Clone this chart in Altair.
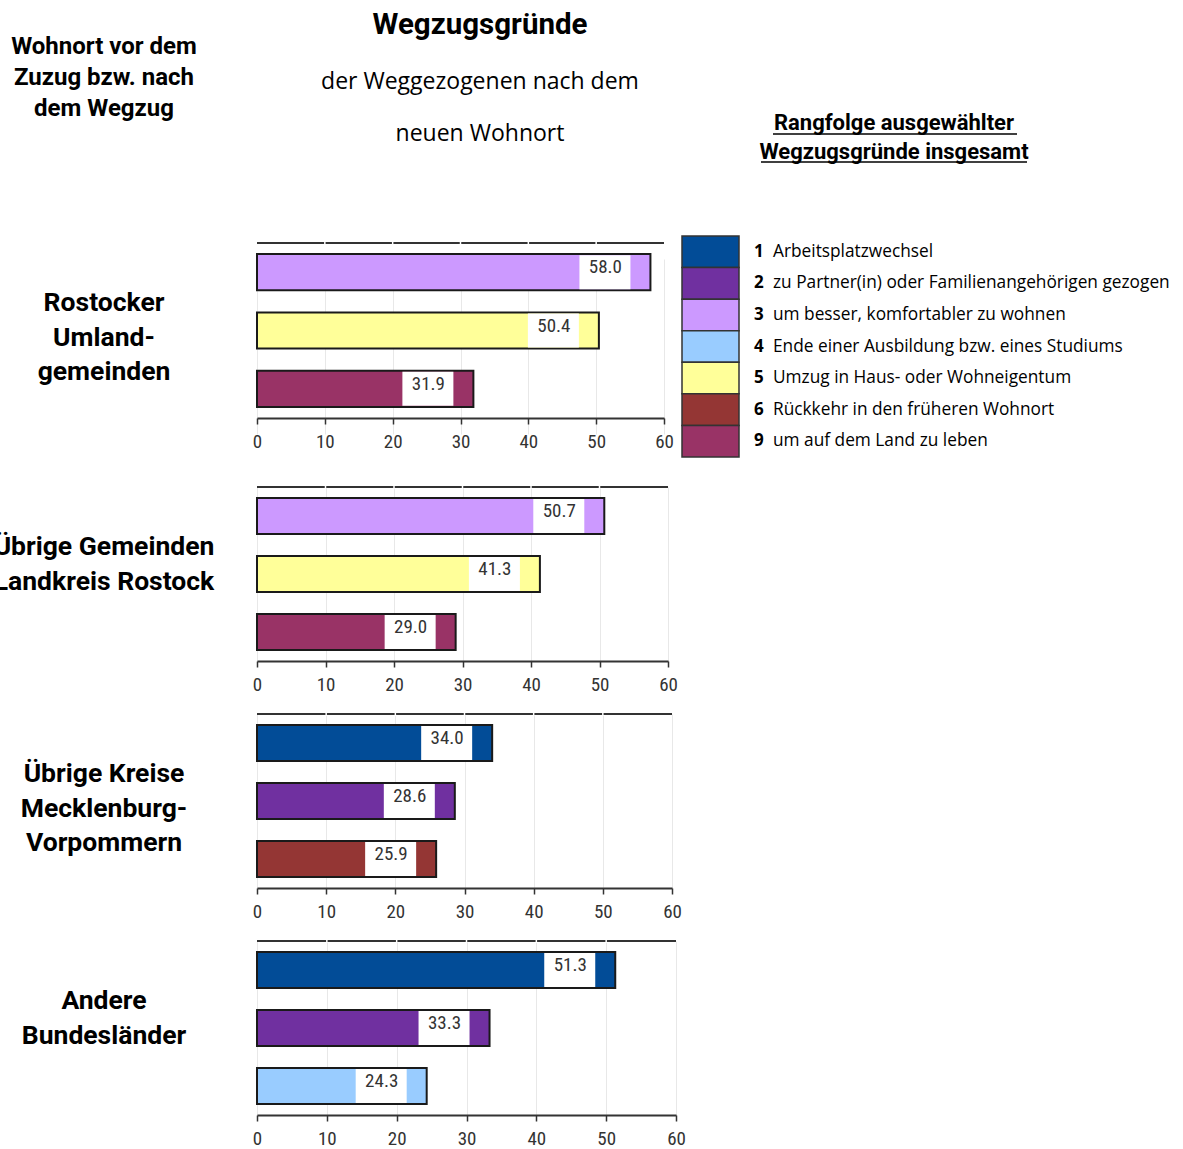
import altair as alt
import pandas as pd

# Fonts
SANS = "Open Sans"
HEAD = "Roboto"
COND = "Roboto Condensed, Liberation Sans Narrow, DejaVu Sans Condensed, Open Sans"
DARK = "#333333"

# Reasons for moving away (rank number, label, colour)
reason_ids = ["1", "2", "3", "4", "5", "6", "9"]
reason_names = [
    "Arbeitsplatzwechsel",
    "zu Partner(in) oder Familienangehörigen gezogen",
    "um besser, komfortabler zu wohnen",
    "Ende einer Ausbildung bzw. eines Studiums",
    "Umzug in Haus- oder Wohneigentum",
    "Rückkehr in den früheren Wohnort",
    "um auf dem Land zu leben",
]
reason_colors = ["#024c97", "#7030a0", "#cc99ff", "#99ccff", "#ffff99", "#943634", "#993366"]

# Regions and their top three reasons (percent)
regions = [
    "Rostocker\nUmland-\ngemeinden",
    "Übrige Gemeinden\nLandkreis Rostock",
    "Übrige Kreise\nMecklenburg-\nVorpommern",
    "Andere\nBundesländer",
]
region_reasons = [["3", "5", "9"], ["3", "5", "9"], ["1", "2", "6"], ["1", "2", "4"]]
region_values = [
    [58.0, 50.4, 31.9],
    [50.7, 41.3, 29.0],
    [34.0, 28.6, 25.9],
    [51.3, 33.3, 24.3],
]

ticks = [0, 10, 20, 30, 40, 50, 60]
inner_ticks = [10, 20, 30, 40, 50]

color_scale = alt.Scale(domain=reason_ids, range=reason_colors)
TOTAL_W = 1183


def panel(idx, x_end, plot_h, axis_offset=0):
    name_of = dict(zip(reason_ids, reason_names))
    df = pd.DataFrame({
        "rang": [1, 2, 3],
        "nr": region_reasons[idx],
        "wert": region_values[idx],
    })
    df["grund"] = df["nr"].map(name_of)

    xs = alt.Scale(domain=[0, 60], range=[257, x_end], nice=False, zero=True)
    ys = alt.Scale(range=[0, plot_h], paddingInner=0.38, paddingOuter=0.19)
    y = alt.Y("rang:O", axis=None, scale=ys)
    x_axis = alt.Axis(
        values=ticks, grid=True, gridColor="#e8e8e8", gridWidth=1,
        domainColor=DARK, domainWidth=2, tickColor=DARK, tickWidth=1.5,
        tickSize=6, labelFontSize=19, labelColor=DARK, labelFont=COND,
        labelPadding=8, labelFlush=False, offset=axis_offset,
    )
    base = alt.Chart(df)
    bars = base.mark_bar(stroke="#1a1a1a", strokeWidth=2).encode(
        x=alt.X("wert:Q", scale=xs, axis=x_axis, title=None),
        y=y,
        color=alt.Color("nr:N", scale=color_scale, legend=None),
    )
    boxes = base.mark_bar(color="white", size=34, xOffset=-71, x2Offset=-20).encode(
        x=alt.X("wert:Q", title=None),
        x2="wert:Q",
        y=y,
    )
    values = base.mark_text(
        font=COND, fontSize=19, color=DARK, xOffset=-45, yOffset=-5
    ).encode(
        x=alt.X("wert:Q", title=None),
        y=y,
        text=alt.Text("wert:Q", format=".1f"),
    )
    # dark frame line along the top of the plot, broken at the grid lines
    top_line = alt.Chart(pd.DataFrame({"wert": [0], "ende": [60]})).mark_rule(
        color=DARK, strokeWidth=2
    ).encode(
        x=alt.X("wert:Q", title=None),
        x2="ende:Q",
        y=alt.value(0),
    )
    gaps = alt.Chart(pd.DataFrame({"wert": inner_ticks})).mark_rule(
        color="white", strokeWidth=1.5
    ).encode(
        x=alt.X("wert:Q", title=None),
        y=alt.value(-2),
        y2=alt.value(2),
    )
    plot = alt.layer(bars, boxes, values, top_line, gaps)

    label = alt.Chart(pd.DataFrame({"t": [regions[idx]]})).mark_text(
        align="center", baseline="top", font=HEAD, fontSize=26.5,
        fontWeight="bold", color="black", lineBreak="\n", lineHeight=34.5,
        clip=True,
    ).encode(x=alt.value(104), y=alt.value(47), text="t:N")
    return plot, label


def legend_layer():
    leg = pd.DataFrame({"nr": reason_ids, "grund": reason_names})
    ly = alt.Y("nr:N", sort=reason_ids, axis=None,
               scale=alt.Scale(range=[-7, 214], paddingInner=0, paddingOuter=0))
    base = alt.Chart(leg)
    rects = base.mark_rect(stroke=DARK, strokeWidth=1.5).encode(
        x=alt.value(682), x2=alt.value(739), y=ly,
        color=alt.Color("nr:N", scale=color_scale, legend=None),
    )
    nums = base.mark_text(
        align="left", baseline="middle", font=SANS, fontSize=17,
        fontWeight="bold", color="black",
    ).encode(x=alt.value(754), y=ly, text="nr:N")
    names = base.mark_text(
        align="left", baseline="middle", font=SANS, fontSize=17.3, color="black",
    ).encode(x=alt.value(773), y=ly, text="grund:N")
    return alt.layer(rects, nums, names)


# Header block: titles and legend caption
def txt(s, x, y, size, bold=False, font=HEAD):
    return alt.Chart(pd.DataFrame({"t": [s]})).mark_text(
        align="center", baseline="middle", font=font, fontSize=size,
        fontWeight="bold" if bold else "normal", color="black",
    ).encode(x=alt.value(x), y=alt.value(y), text="t:N")


def underline(x1, x2, y):
    return alt.Chart(pd.DataFrame({"a": [0]})).mark_rule(
        color="black", strokeWidth=1.5
    ).encode(x=alt.value(x1), x2=alt.value(x2), y=alt.value(y))


header = alt.layer(
    txt("Wegzugsgründe", 480, 25, 29.5, bold=True),
    txt("der Weggezogenen nach dem", 480, 82, 23, font=SANS),
    txt("neuen Wohnort", 480, 134, 23, font=SANS),
    txt("Wohnort vor dem", 104, 47, 24, bold=True),
    txt("Zuzug bzw. nach", 104, 78, 24, bold=True),
    txt("dem Wegzug", 104, 109, 24, bold=True),
    txt("Rangfolge ausgewählter", 894, 123, 22, bold=True),
    txt("Wegzugsgründe insgesamt", 894, 152, 22, bold=True),
    underline(773, 1017, 134),
    underline(761, 1027, 162),
).properties(width=TOTAL_W, height=190)

p1, l1 = panel(0, 664, 175, axis_offset=-16)
row1 = alt.layer(l1, p1, legend_layer()).resolve_scale(y="independent").properties(
    width=TOTAL_W, height=191)

rows = [row1]
for i, x_end in zip([1, 2, 3], [668, 672, 676]):
    p, l = panel(i, x_end, 174)
    rows.append(alt.layer(l, p).resolve_scale(y="independent").properties(
        width=TOTAL_W, height=174))

chart = alt.vconcat(header, *rows, spacing=53, bounds="flush").properties(
    padding=0
).configure_view(stroke=None)

chart.save("out.html", embed_options={"renderer": "svg", "actions": False})
